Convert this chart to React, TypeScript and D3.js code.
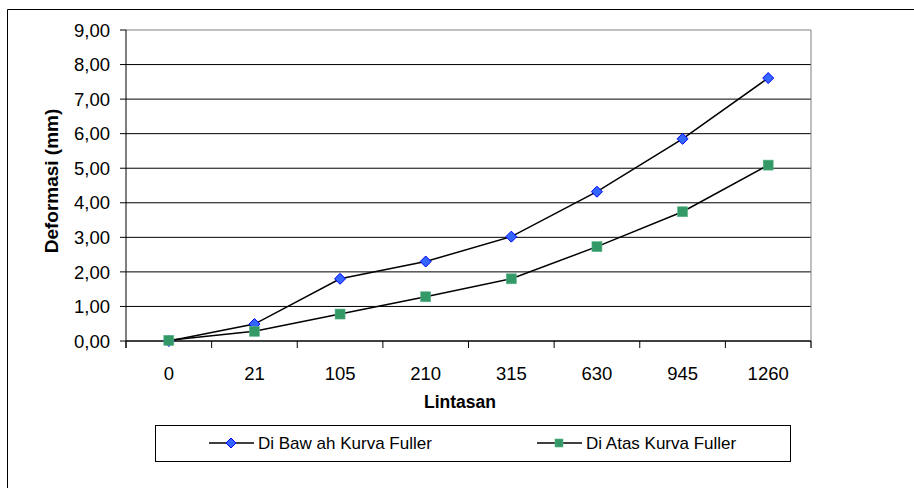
import React from "react";
import * as d3 from "d3";

const categories = ["0", "21", "105", "210", "315", "630", "945", "1260"];
const seriesBawah = [0.0, 0.49, 1.8, 2.3, 3.02, 4.32, 5.85, 7.61];
const seriesAtas = [0.02, 0.28, 0.78, 1.28, 1.8, 2.73, 3.74, 5.09];
const yTicks = [0, 1, 2, 3, 4, 5, 6, 7, 8, 9];
const seriesNames = ["Di Baw ah Kurva Fuller", "Di Atas Kurva Fuller"];

const W = 914;
const H = 488;
const plot = { left: 126, right: 811, top: 30, bottom: 341 };
const FONT = "Arial, 'Liberation Sans', sans-serif";

export default function App() {
  const x = d3
    .scaleBand<string>()
    .domain(categories)
    .range([plot.left, plot.right])
    .paddingInner(0)
    .paddingOuter(0);
  const y = d3.scaleLinear().domain([0, 9]).range([plot.bottom, plot.top]);
  const cx = (c: string) => (x(c) as number) + x.bandwidth() / 2;

  const line = d3
    .line<number>()
    .x((_, i) => cx(categories[i]))
    .y((d) => y(d));

  const fmt = (v: number) => v.toFixed(2).replace(".", ",");
  const boundaries = categories.map((c) => x(c) as number).concat([plot.right]);

  const diamond = (px: number, py: number, r = 5.5) =>
    `M${px},${py - r}L${px + r},${py}L${px},${py + r}L${px - r},${py}Z`;

  const legendY = 443;
  const leg1x = 209;
  const leg2x = 537;

  return (
    <svg
      width={W}
      height={H}
      style={{ position: "absolute", left: 0, top: 0, background: "#fff" }}
      fontFamily={FONT}
    >
      <rect x={0} y={0} width={W} height={H} fill="#fff" />
      {/* outer chart border */}
      <path d={`M7.5,${H}V9.5H${W}`} fill="none" stroke="#000" strokeWidth={1} />

      {/* gridlines */}
      {yTicks.map((t) => (
        <line
          key={"g" + t}
          x1={plot.left}
          x2={plot.right}
          y1={y(t)}
          y2={y(t)}
          stroke={t === 9 ? "#808080" : "#000"}
          strokeWidth={1}
        />
      ))}
      {/* plot border right */}
      <line x1={plot.right} x2={plot.right} y1={plot.top} y2={plot.bottom + 7} stroke="#808080" strokeWidth={1} />

      {/* y axis */}
      <line x1={plot.left} x2={plot.left} y1={plot.top} y2={plot.bottom + 7} stroke="#000" strokeWidth={1} />
      {yTicks.map((t) => (
        <g key={"yt" + t}>
          <line x1={plot.left - 6} x2={plot.left} y1={y(t)} y2={y(t)} stroke="#000" />
          <text
            x={110}
            y={y(t)}
            dy="0.36em"
            textAnchor="end"
            fontSize={18.5}
            fill="#000"
          >
            {fmt(t)}
          </text>
        </g>
      ))}

      {/* x axis */}
      <line x1={plot.left} x2={plot.right} y1={plot.bottom} y2={plot.bottom} stroke="#000" strokeWidth={1.2} />
      {boundaries.map((b, i) => (
        <line key={"xt" + i} x1={b} x2={b} y1={plot.bottom} y2={plot.bottom + 7} stroke="#000" />
      ))}
      {categories.map((c) => (
        <text key={"xl" + c} x={cx(c)} y={380} textAnchor="middle" fontSize={18.5} fill="#000">
          {c}
        </text>
      ))}

      {/* axis titles */}
      <text x={460} y={408} textAnchor="middle" fontSize={17.5} fontWeight="bold" fill="#000">
        Lintasan
      </text>
      <text
        transform={`translate(58,181) rotate(-90)`}
        textAnchor="middle"
        fontSize={19}
        fontWeight="bold"
        fill="#000"
      >
        Deformasi (mm)
      </text>

      {/* series lines */}
      <path d={line(seriesBawah) || ""} fill="none" stroke="#000" strokeWidth={1.5} />
      <path d={line(seriesAtas) || ""} fill="none" stroke="#000" strokeWidth={1.5} />

      {/* markers */}
      {seriesBawah.map((v, i) => (
        <path
          key={"b" + i}
          d={diamond(cx(categories[i]), y(v))}
          fill="#3366FF"
          stroke="#0000FF"
          strokeWidth={1}
        />
      ))}
      {seriesAtas.map((v, i) => (
        <rect
          key={"a" + i}
          x={cx(categories[i]) - 5}
          y={y(v) - 5}
          width={10}
          height={10}
          fill="#339966"
          stroke="#5fb48a"
          strokeWidth={0.6}
        />
      ))}

      {/* legend */}
      <rect x={155.5} y={425.5} width={635} height={36} fill="#fff" stroke="#000" strokeWidth={1} />
      <line x1={leg1x} x2={leg1x + 45} y1={legendY} y2={legendY} stroke="#000" strokeWidth={1.5} />
      <path d={diamond(leg1x + 22, legendY, 5)} fill="#3366FF" stroke="#0000FF" strokeWidth={1} />
      <text x={leg1x + 49} y={legendY} dy="0.36em" fontSize={17} fill="#000">
        {seriesNames[0]}
      </text>
      <line x1={leg2x} x2={leg2x + 45} y1={legendY} y2={legendY} stroke="#000" strokeWidth={1.5} />
      <rect x={leg2x + 22 - 4} y={legendY - 4} width={8} height={8} fill="#339966" stroke="#5fb48a" strokeWidth={0.6} />
      <text x={leg2x + 49} y={legendY} dy="0.36em" fontSize={17} fill="#000">
        {seriesNames[1]}
      </text>
    </svg>
  );
}
